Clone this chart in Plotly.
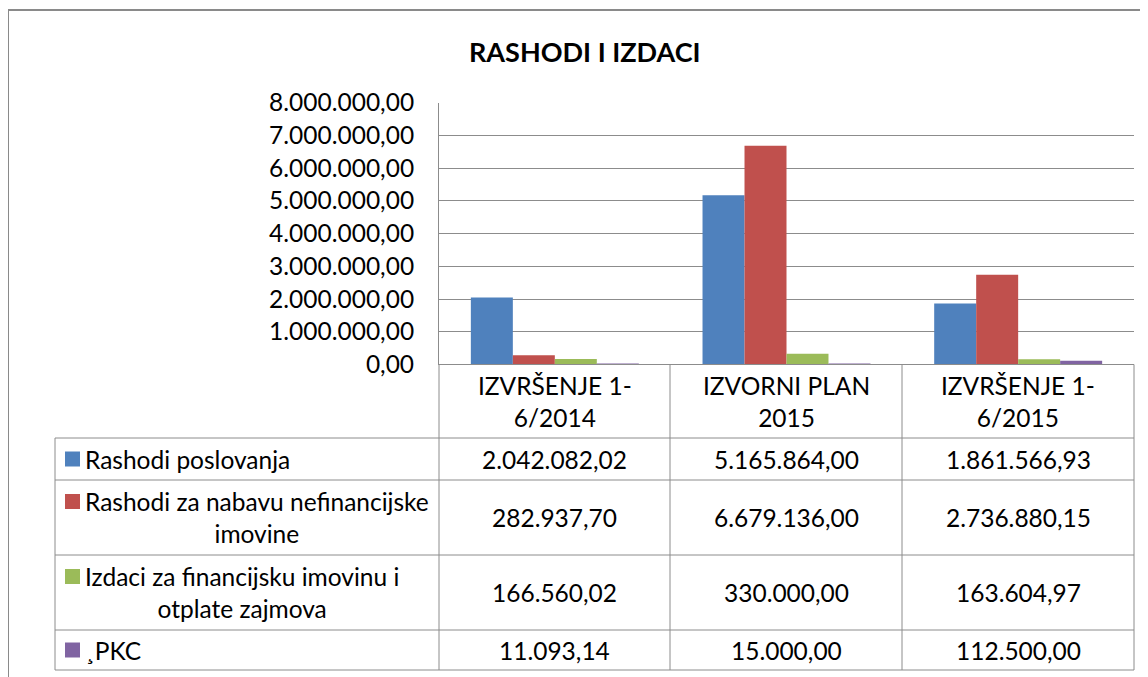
import plotly.graph_objects as go

# ---------------- data ----------------
categories = ["IZVRŠENJE 1-6/2014", "IZVORNI PLAN 2015", "IZVRŠENJE 1-6/2015"]
category_labels = ["IZVRŠENJE 1-<br>6/2014", "IZVORNI PLAN<br>2015", "IZVRŠENJE 1-<br>6/2015"]
series_names = ["Rashodi poslovanja", "Rashodi za nabavu nefinancijske imovine",
                "Izdaci za financijsku imovinu i otplate zajmova", "¸PKC"]
series_labels = ["Rashodi poslovanja", "Rashodi za nabavu nefinancijske<br>imovine",
                 "Izdaci za financijsku imovinu i<br>otplate zajmova", "¸PKC"]
rashodi_poslovanja = [2042082.02, 5165864.00, 1861566.93]
rashodi_nabava = [282937.70, 6679136.00, 2736880.15]
izdaci_financijska = [166560.02, 330000.00, 163604.97]
pkc = [11093.14, 15000.00, 112500.00]
series_values = [rashodi_poslovanja, rashodi_nabava, izdaci_financijska, pkc]
colors = ["#4F81BD", "#C0504D", "#9BBB59", "#8064A2"]
y_tick_values = [0, 1e6, 2e6, 3e6, 4e6, 5e6, 6e6, 7e6, 8e6]
title_text = "RASHODI I IZDACI"


def fmt(v):
    s = f"{v:,.2f}"
    return s.replace(",", "#").replace(".", ",").replace("#", ".")


W, H = 1148, 677
OX, OY = 8, 8  # page offset of the figure (body margin)
FONT = "Lato"
FS = 24.5
GRID = "#8c8c8c"


def px(x):
    return (x - OX) / W


def py(y):
    return 1 - (y - OY) / H


# layout geometry (page pixels)
plot_left, plot_right = 439, 1134
plot_top, plot_bottom = 102.5, 364.5
col_edges = [439, 670, 902, 1134]
row_edges = [364.5, 438, 480, 555, 630, 670]
legend_left = 55

fig = go.Figure()
for name, vals, col in zip(series_names, series_values, colors):
    fig.add_trace(go.Bar(x=categories, y=vals, name=name, marker_color=col,
                         marker_line_width=0, showlegend=False))

fig.update_layout(
    width=W, height=H,
    margin=dict(l=0, r=0, t=0, b=0, autoexpand=False),
    paper_bgcolor="white", plot_bgcolor="white",
    barmode="group", bargap=0.275, bargroupgap=0,
    font=dict(family=FONT, size=FS, color="#000000"),
    xaxis=dict(domain=[px(plot_left), px(plot_right)], showticklabels=False,
               showgrid=False, zeroline=False, showline=False, ticks="",
               automargin=False),
    yaxis=dict(domain=[py(plot_bottom), py(plot_top)], range=[0, 8e6],
               tickvals=y_tick_values, ticktext=[fmt(v) for v in y_tick_values],
               showgrid=True, gridcolor=GRID, gridwidth=1,
               zeroline=True, zerolinecolor=GRID, zerolinewidth=1,
               showline=True, linecolor=GRID, linewidth=1,
               ticks="", ticklabelstandoff=19, automargin=False,
               tickfont=dict(family=FONT, size=FS, color="#000000")),
)

shapes = []
line = dict(color=GRID, width=1)
# outer chart border
shapes.append(dict(type="line", xref="paper", yref="paper", x0=px(8), x1=px(1160),
                   y0=py(10), y1=py(10), line=dict(color="#8a8a8a", width=2)))
shapes.append(dict(type="line", xref="paper", yref="paper", x0=px(8), x1=px(8),
                   y0=py(10), y1=py(690), line=dict(color="#8a8a8a", width=2)))
# table horizontal lines
shapes.append(dict(type="line", xref="paper", yref="paper", x0=px(col_edges[0]), x1=px(col_edges[-1]),
                   y0=py(row_edges[0]), y1=py(row_edges[0]), line=line))
for r in row_edges[1:]:
    shapes.append(dict(type="line", xref="paper", yref="paper", x0=px(legend_left), x1=px(col_edges[-1]),
                       y0=py(r), y1=py(r), line=line))
# table vertical lines
for c in col_edges:
    shapes.append(dict(type="line", xref="paper", yref="paper", x0=px(c), x1=px(c),
                       y0=py(row_edges[0]), y1=py(row_edges[-1]), line=line))
shapes.append(dict(type="line", xref="paper", yref="paper", x0=px(legend_left), x1=px(legend_left),
                   y0=py(row_edges[1]), y1=py(row_edges[-1]), line=line))

annotations = []
# title
annotations.append(dict(text=f"<b>{title_text}</b>", xref="paper", yref="paper",
                        x=px(585), y=py(52), xanchor="center", yanchor="middle",
                        showarrow=False, font=dict(family=FONT, size=27, color="#000000")))
# header row (categories)
for i, lab in enumerate(category_labels):
    cx = (col_edges[i] + col_edges[i + 1]) / 2
    cy = (row_edges[0] + row_edges[1]) / 2
    annotations.append(dict(text=lab, xref="paper", yref="paper", x=px(cx), y=py(cy),
                            xanchor="center", yanchor="middle", align="center",
                            showarrow=False, font=dict(family=FONT, size=FS, color="#000000")))
# series rows
for j, (lab, vals, col) in enumerate(zip(series_labels, series_values, colors)):
    top, bot = row_edges[j + 1], row_edges[j + 2]
    cy = (top + bot) / 2
    two_lines = "<br>" in lab
    first_line_y = cy - 16 if two_lines else cy
    shapes.append(dict(type="rect", xref="paper", yref="paper",
                       x0=px(65), x1=px(80), y0=py(first_line_y - 7.5), y1=py(first_line_y + 7.5),
                       fillcolor=col, line=dict(width=0)))
    annotations.append(dict(text=lab, xref="paper", yref="paper", x=px(83), y=py(cy),
                            xanchor="left", yanchor="middle", align="center",
                            showarrow=False, font=dict(family=FONT, size=FS, color="#000000")))
    for i, v in enumerate(vals):
        cx = (col_edges[i] + col_edges[i + 1]) / 2
        annotations.append(dict(text=fmt(v), xref="paper", yref="paper", x=px(cx), y=py(cy),
                                xanchor="center", yanchor="middle",
                                showarrow=False, font=dict(family=FONT, size=FS, color="#000000")))

fig.update_layout(shapes=shapes, annotations=annotations)
fig.write_html("out.html")
